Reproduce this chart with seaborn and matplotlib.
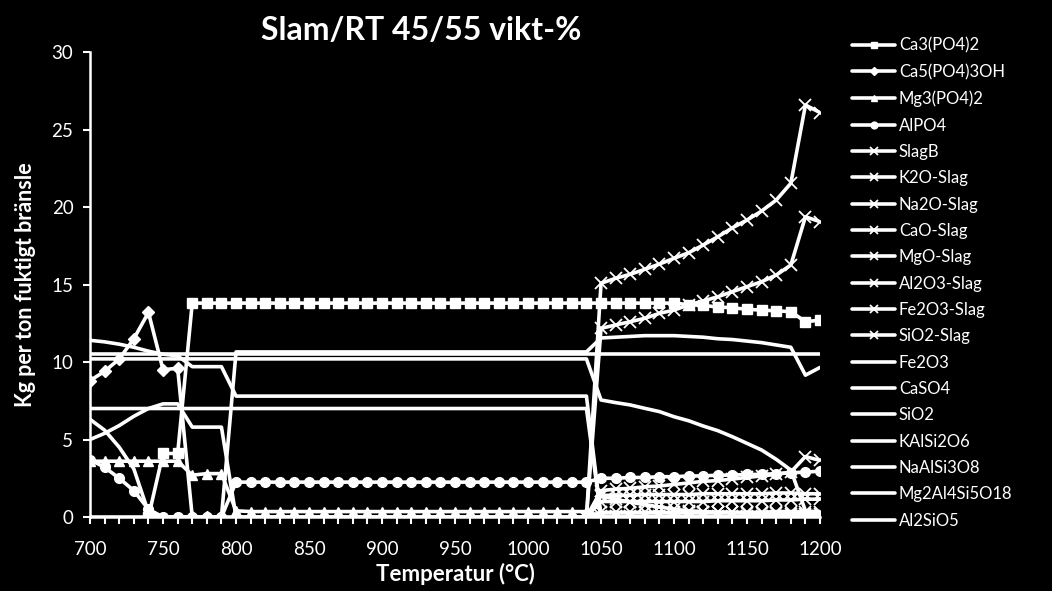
import matplotlib
matplotlib.use("Agg")
import matplotlib.pyplot as plt
from matplotlib.ticker import MultipleLocator
import numpy as np
import seaborn as sns

nan = np.nan

temps = np.arange(700, 1201, 10)

ca3po42 = [nan] * 4 + [0, 4.1, 4.1] + [13.8] * 34 + [13.7, 13.65, 13.55, 13.5, 13.4, 13.35, 13.3, 13.25, 12.6, 12.7]
ca5po43oh = [8.8, 9.4, 10.2, 11.5, 13.2, 9.5, 9.6, 0, 0, 0] + [nan] * 41
mg3po42 = [3.6] * 7 + [2.7, 2.8, 2.8] + [0.4] + [0.35] * 24 + [0.05] * 16
alpo4 = [3.7, 3.2, 2.5, 1.7, 0.5, 0, 0, 0, 0, 0] + [2.25] * 25 + \
    [2.5, 2.5, 2.55, 2.55, 2.6, 2.6, 2.65, 2.65, 2.7, 2.7, 2.75, 2.75, 2.8, 2.85, 2.9, 2.95]

slag_start = [nan] * 34 + [0]
slagb = slag_start + [15.08, 15.4, 15.66, 15.98, 16.32, 16.69, 17.05, 17.55, 18.08, 18.66, 19.16, 19.74, 20.45, 21.53, 26.58, 26.09]
k2o_slag = slag_start + [1.4, 1.4, 1.4, 1.45, 1.45, 1.45, 1.45, 1.5, 1.5, 1.5, 1.5, 1.5, 1.55, 1.55, 1.5, 1.5]
na2o_slag = slag_start + [0.3, 0.3, 0.3, 0.3, 0.3, 0.3, 0.3, 0.3, 0.3, 0.3, 0.3, 0.3, 0.35, 0.35, 0.35, 0.35]
cao_slag = slag_start + [1.7, 1.8, 1.85, 1.95, 2.0, 2.1, 2.2, 2.3, 2.35, 2.45, 2.55, 2.65, 2.75, 2.9, 3.9, 3.65]
mgo_slag = slag_start + [1.0, 1.0, 1.0, 1.0, 1.0, 1.0, 1.0, 1.0, 1.05, 1.05, 1.05, 1.05, 1.1, 1.1, 1.15, 1.15]
al2o3_slag = slag_start + [1.35, 1.15, 0.95, 0.8, 0.65, 0.5, 0.4, 0.35, 0.3, 0.3, 0.25, 0.25, 0.25, 0.2, 0.2, 0.2]
fe2o3_slag = slag_start + [0.05] * 16
sio2_slag = slag_start + [12.17, 12.39, 12.6, 12.82, 13.14, 13.35, 13.68, 13.94, 14.21, 14.54, 14.86, 15.18, 15.61, 16.26, 19.37, 19.05]

fe2o3 = [10.5] * 51
caso4 = [10.2] * 35 + [7.55, 7.38, 7.23, 7.01, 6.8, 6.47, 6.21, 5.87, 5.57, 5.18, 4.75, 4.32, 3.72, 3.03, 0.4, 0.3]
sio2 = [11.4, 11.3, 11.15, 10.95, 10.7, 10.5, 10.4, 9.7, 9.7, 9.7] + [7.8] * 25 + [0] * 16
kalsi2o6 = [7.0] * 35 + [0] * 16
naalsi3o8 = [5.0, 5.4, 5.9, 6.5, 7.0, 7.3, 7.3, 5.8, 5.8, 5.8] + [0] * 41
mg2al4si5o18 = [6.3, 5.6, 4.5, 3.1, 0.3] + [0] * 46
al2sio5 = [0] * 10 + [10.65] * 25 + [11.55, 11.6, 11.65, 11.7, 11.7, 11.7, 11.65, 11.6, 11.5, 11.45, 11.35, 11.25, 11.1, 10.95, 9.15, 9.65]

series = [
    ("Ca3(PO4)2", ca3po42, "s", 7),
    ("Ca5(PO4)3OH", ca5po43oh, "D", 6),
    ("Mg3(PO4)2", mg3po42, "^", 7),
    ("AlPO4", alpo4, "o", 7),
    ("SlagB", slagb, "x", 8),
    ("K2O-Slag", k2o_slag, "x", 8),
    ("Na2O-Slag", na2o_slag, "x", 8),
    ("CaO-Slag", cao_slag, "x", 8),
    ("MgO-Slag", mgo_slag, "x", 8),
    ("Al2O3-Slag", al2o3_slag, "x", 8),
    ("Fe2O3-Slag", fe2o3_slag, "x", 8),
    ("SiO2-Slag", sio2_slag, "x", 8),
    ("Fe2O3", fe2o3, None, 0),
    ("CaSO4", caso4, None, 0),
    ("SiO2", sio2, None, 0),
    ("KAlSi2O6", kalsi2o6, None, 0),
    ("NaAlSi3O8", naalsi3o8, None, 0),
    ("Mg2Al4Si5O18", mg2al4si5o18, None, 0),
    ("Al2SiO5", al2sio5, None, 0),
]

sns.set_theme(style="ticks")
plt.rcParams['font.family'] = ['Lato', 'DejaVu Sans']
plt.rcParams['text.color'] = 'white'
plt.rcParams['axes.labelcolor'] = 'white'

fig = plt.figure(figsize=(10.52, 5.91), dpi=100, facecolor='black')
ax = fig.add_axes([0.0856, 0.1252, 0.6939, 0.7868])
ax.set_facecolor('black')

for name, vals, mk, ms in series:
    y = np.array(vals, dtype=float)
    if mk is None:
        sns.lineplot(x=temps, y=y, ax=ax, color='white', linewidth=2.6, label=name)
    else:
        sns.lineplot(x=temps, y=y, ax=ax, color='white', linewidth=2.6, label=name,
                     marker=mk, markersize=ms, markeredgecolor='white',
                     markeredgewidth=1.3 if mk == "x" else 1.0)

ax.set_xlim(700, 1200)
ax.set_ylim(0, 30)
ax.xaxis.set_major_locator(MultipleLocator(50))
ax.xaxis.set_minor_locator(MultipleLocator(10))
ax.yaxis.set_major_locator(MultipleLocator(5))
for side in ['top', 'right']:
    ax.spines[side].set_visible(False)
for side in ['left', 'bottom']:
    ax.spines[side].set_color('white')
    ax.spines[side].set_linewidth(1.8)
ax.tick_params(axis='both', which='both', colors='white', direction='out', width=1.5)
ax.tick_params(axis='both', which='major', length=5, labelsize=13.5)
ax.tick_params(axis='y', which='major', pad=7)
ax.tick_params(axis='x', which='major', pad=12)
ax.tick_params(axis='x', which='minor', length=5)
ax.margins(x=0)

fig.text(0.40, 0.948, "Slam/RT 45/55 vikt-%", fontsize=23, fontweight='bold', color='white',
         ha='center', va='center')
ax.set_xlabel("Temperatur (°C)", fontsize=16, fontweight='bold', labelpad=4)
ax.set_ylabel("Kg per ton fuktigt bränsle", fontsize=15.5, fontweight='bold', labelpad=11)

leg = ax.legend(loc='upper left', bbox_to_anchor=(1.035, 1.045), frameon=False, fontsize=12,
                handlelength=2.55, handletextpad=0.25, labelspacing=0.62, markerscale=0.7,
                borderaxespad=0)
for t in leg.get_texts():
    t.set_color('white')

fig.savefig("out.png", dpi=100, facecolor='black')
